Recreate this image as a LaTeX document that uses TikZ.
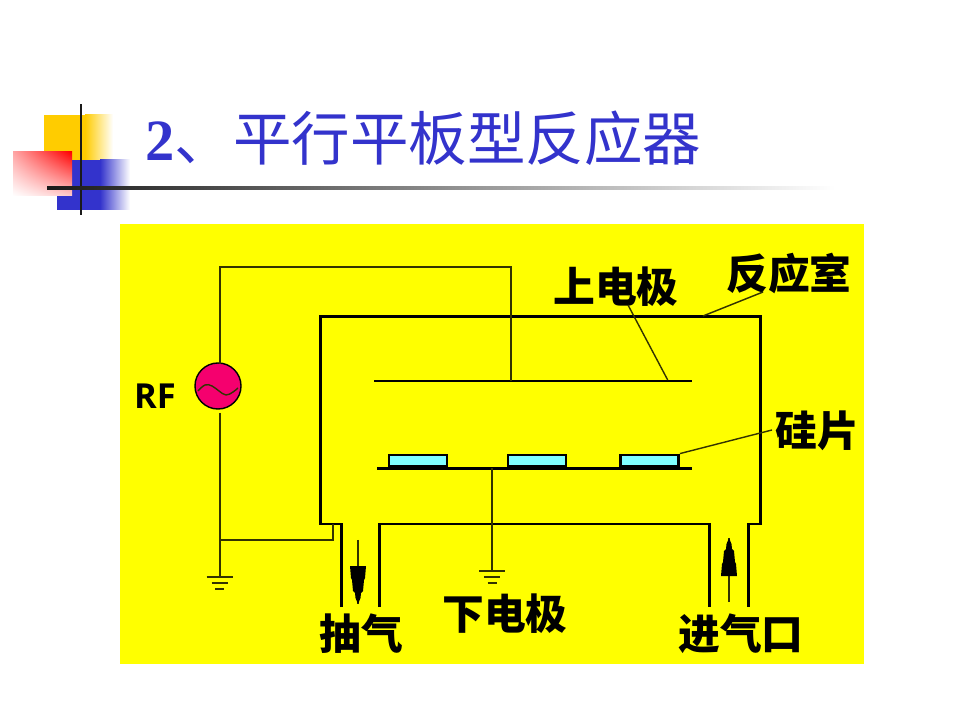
\documentclass[tikz,border=0pt]{standalone}
\usepackage{fontspec}
\usepackage{tikz}
\setmainfont{Liberation Serif}
\newfontfamily\cjk{Noto Sans CJK SC}
\newfontfamily\labelsans{Open Sans}
\usetikzlibrary{positioning,calc,shadings}
\definecolor{cpanel}{HTML}{FFFF00}
\definecolor{ctitle}{HTML}{3333CC}
\definecolor{cgold}{HTML}{FFCC00}
\definecolor{cred}{HTML}{FF0000}
\definecolor{cline}{HTML}{1A1A1A}
\definecolor{cwire}{HTML}{333300}
\definecolor{cwafer}{HTML}{80FFFF}
\definecolor{crf}{HTML}{F5006E}
\tikzset{
  ttl/.style    ={font=\fontsize{41.6}{41.6}\selectfont\bfseries,text=ctitle,inner sep=0pt},
  lbl/.style    ={font=\cjk\bfseries\fontsize{29.7}{29.7}\selectfont,text=black,inner sep=0pt},
  wall/.style   ={draw=black,line width=2.13pt},
  wire/.style   ={draw=cwire,line width=1.4pt},
  lead/.style   ={draw=cwire,line width=1pt},
  wafer/.style  ={draw=black,line width=2pt,fill=cwafer,inner sep=0pt,
                  minimum width=1.45cm,minimum height=0.29cm},
  source/.style ={circle,draw=black,line width=1pt,fill=crf,inner sep=0pt,minimum size=1.15cm},
}
\newcommand{\groundmark}[1]{%
\begin{scope}[shift={#1}]
 \foreach \w/\d in {13/0,8/6,4.5/12}
   {\draw[wire] (-\w,\d) -- (\w,\d);}
\end{scope}}
\newcommand{\gasarrow}[2]{%
\begin{scope}[shift={#1},yscale=#2]
 \fill[black] (0,0) -- (-2.5,6) -- (-3,11) -- (-5,13) -- (-6,24) -- (-7,26)
   -- (-8,38) -- (8,38) -- (7,26) -- (6,24) -- (5,13) -- (3,11) -- (2.5,6) -- cycle;
\end{scope}}

\begin{document}
\begin{tikzpicture}[x=0.025cm,y=-0.025cm]
 \useasboundingbox (0,0) rectangle (960,720);
 % logo squares
 \fill[cgold] (44,115) rectangle (85,160);
 \shade[left color=cgold,right color=white] (85,115) rectangle (113,160);
 \fill[ctitle] (57,160) rectangle (100,210);
 \shade[left color=ctitle,right color=white] (100,160) rectangle (130,210);
 \shade[lower left=white,upper right=cred,upper left=cred!35!white,lower right=cred!20!white]
   (13,152) rectangle (72,196);
 \fill[cline] (79.7,104) rectangle (82.3,215);
 \shade[left color=cline,right color=white] (47,187) rectangle (835,190);
 % title
 \node[ttl,anchor=west] (title) at (145,138) {2\cjk\mdseries、平行平板型反应器};
 % panel
 \fill[cpanel] (120,224) rectangle (864,664);
 % chamber outline
 \coordinate (pumpl) at (341,607);
 \coordinate (pumpr) at (379,607);
 \coordinate (inl) at (709,607);
 \coordinate (inr) at (748,607);
 \draw[wall] (pumpl) -- (341,524) -- (320,524) -- (320,317) -- (760,317) -- (760,524)
   -- (748,524) -- (inr);
 \draw[wall] (pumpr) -- (379,524) -- (709,524) -- (inl);
 % electrodes
 \coordinate (upl) at (374,381);
 \coordinate (upr) at (692,381);
 \coordinate (lol) at (377,468.5);
 \coordinate (lor) at (692,468.5);
 \draw[wall] (upl) -- (upr);
 \draw[wall] (lol) -- (lor);
 \node[wafer,anchor=south] (wafa) at (418,468) {};
 \node[wafer,anchor=south] (wafb) at (537,468) {};
 \node[wafer,anchor=south] (wafc) at (649.5,468) {};
 % rf source
 \node[source] (rf) at (218,386) {};
 \draw[cwire,line width=1pt] plot[smooth,tension=0.7]
   coordinates {(198,391) (205,385) (212,386) (219,391) (226,395) (233,392) (238,388)};
 \node[font=\labelsans\bfseries\fontsize{24.5}{24.5}\selectfont,inner sep=0pt,left=13pt of rf,yshift=-7.5pt] (rflabel) {RF};
 % wires
 \coordinate (upstem) at (511,381);
 \coordinate (rftop) at (219.7,364);
 \coordinate (rfbot) at (219.7,413);
 \coordinate (gndl) at (219.7,577);
 \coordinate (gndc) at (492,571);
 \coordinate (lostem) at (492,468.5);
 \coordinate (tap) at (219.7,540);
 \coordinate (wallfoot) at (333,524);
 \draw[wire] (rftop) -- (219.7,267) -- (511,267) -- (upstem);
 \draw[wire] (rfbot) -- (gndl);
 \draw[wire] (tap) -- (333,540) -- (wallfoot);
 \draw[wire] (lostem) -- (gndc);
 \groundmark{(gndl)}
 \groundmark{(gndc)}
 % gas arrows
 \coordinate (pumptail) at (358,540);
 \coordinate (pumptip) at (358,604);
 \coordinate (intail) at (729,602);
 \coordinate (intip) at (729,538);
 \draw[wire] (pumptail) -- (pumptip);
 \draw[wire] (intail) -- (intip);
 \gasarrow{(pumptip)}{-1}
 \gasarrow{(intip)}{1}
 % labels
 \node[lbl] (upper) at (616,287) {上电极};
 \node[lbl] (room) at (789,274) {反应室};
 \node[lbl] (chip) at (817,431) {硅片};
 \node[lbl] (pump) at (361,634) {抽气};
 \node[lbl] (lower) at (505,614) {下电极};
 \node[lbl] (inlet) at (741,634) {进气口};
 % leaders
 \coordinate (upperend) at (628,305);
 \coordinate (upperfoot) at (667.7,380);
 \coordinate (roomend) at (763,292);
 \coordinate (roomfoot) at (703,316);
 \coordinate (chipend) at (772,430);
 \draw[lead] (upperend) -- (upperfoot);
 \draw[lead] (roomend) -- (roomfoot);
 \draw[lead] (chipend) -- (wafc.north east);
\end{tikzpicture}
\end{document}
